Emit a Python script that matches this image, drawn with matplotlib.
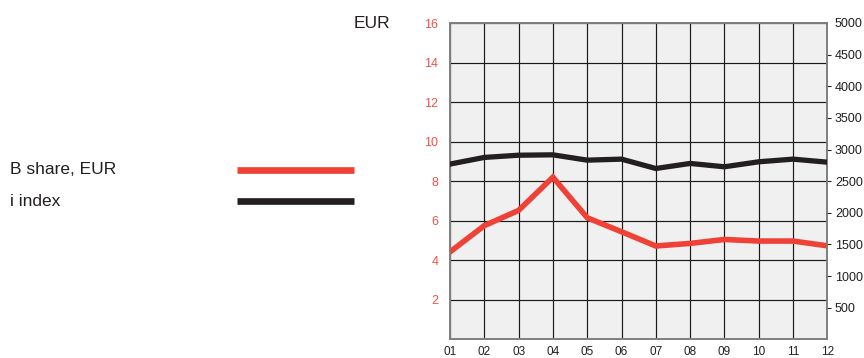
import matplotlib
matplotlib.use("Agg")
import matplotlib.pyplot as plt
from matplotlib.lines import Line2D

plt.rcParams['font.family'] = ['Liberation Sans', 'DejaVu Sans']

months = ["01", "02", "03", "04", "05", "06", "07", "08", "09", "10", "11", "12"]
b_share_eur = [4.42, 5.75, 6.52, 8.2, 6.15, 5.44, 4.72, 4.85, 5.05, 4.97, 4.97, 4.73]
i_index = [2770, 2875, 2910, 2916, 2832, 2848, 2700, 2780, 2727, 2806, 2848, 2800]
series_names = ["B share, EUR", "i index"]
left_ticks = [2, 4, 6, 8, 10, 12, 14, 16]
right_ticks = [500, 1000, 1500, 2000, 2500, 3000, 3500, 4000, 4500, 5000]

RED = "#ef4136"
BLACK = "#231f20"
LABEL_RED = "#f0524a"

fig = plt.figure(figsize=(8.64, 3.58), dpi=100)
ax = fig.add_axes([450/864, 1-339.3/358, 377.3/864, 316.3/358])
ax2 = ax.twinx()

x = list(range(len(months)))

ax.set_facecolor("#f0f0f0")
ax.set_xlim(0, len(months) - 1)
ax.set_ylim(0, 16)
ax2.set_ylim(0, 5000)

ax.set_xticks(x)
ax.set_xticklabels(months)
ax.set_yticks(left_ticks)
ax.set_yticklabels([str(v) for v in left_ticks])
ax.grid(True, color="#1a1a1a", linewidth=0.85)
ax.set_axisbelow(True)

ax.tick_params(axis='x', length=0, pad=5, labelsize=8.5, colors="#231f20")
ax.tick_params(axis='y', length=0, pad=8.5, labelsize=9, labelcolor=LABEL_RED)

ax2.set_yticks(right_ticks)
ax2.set_yticklabels([str(v) for v in right_ticks])
ax2.tick_params(axis='y', length=3, width=0.8, pad=2.5, labelsize=9,
                colors="#231f20", direction='out')
ax2.yaxis.get_major_ticks()[-1].tick2line.set_visible(False)

for a in (ax, ax2):
    for s in a.spines.values():
        s.set_color("#7f7f7f")
        s.set_linewidth(1.2)

ax.plot(x, b_share_eur, color=RED, linewidth=4.0, solid_joinstyle='miter', zorder=5)
ax2.plot(x, i_index, color=BLACK, linewidth=3.8, solid_joinstyle='miter', zorder=5)

fig.text(354/864, 1-24/358, "EUR", fontsize=12.5, color="#231f20", va="center", ha="left")

# manual legend
leg_y = [1-169.5/358, 1-201/358]
colors = [RED, BLACK]
for name, yy, c in zip(series_names, leg_y, colors):
    fig.text(10/864, yy, name, fontsize=12.5, color="#231f20", va="center", ha="left")
    fig.add_artist(Line2D([237/864, 354/864], [yy, yy], color=c, linewidth=4.8,
                          solid_capstyle='butt', transform=fig.transFigure))

fig.savefig("out.png", dpi=100)
